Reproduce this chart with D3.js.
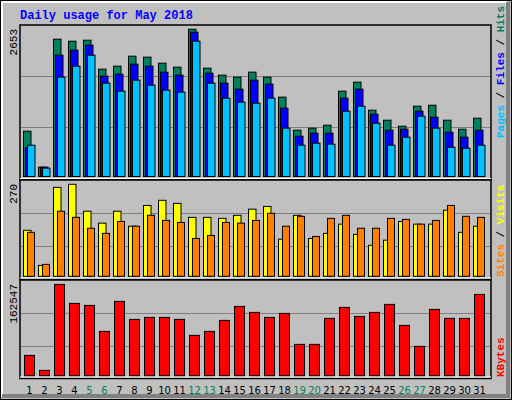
<!DOCTYPE html>
<html><head><meta charset="utf-8">
<script src="https://cdn.jsdelivr.net/npm/d3@7"></script>
<style>body{margin:0;background:#fff}svg{display:block}</style>
</head><body>
<script>
// daily values
var days = d3.range(1, 32);
var weekend = [5, 6, 12, 13, 19, 20, 26, 27];
var hits = [816,168,2473,2437,2455,1933,1987,2167,2149,2041,1969,2653,1951,1825,1789,1879,1789,1429,834,870,924,1537,1699,1194,1014,906,1266,1284,1014,852,1050];
var files = [516,168,2185,2275,2365,1807,1843,2023,1987,1879,1825,2599,1861,1681,1573,1735,1663,1231,726,780,780,1411,1573,1122,834,852,1176,1068,798,708,834];
var pages = [564,150,1789,1987,2185,1681,1537,1735,1645,1555,1519,2437,1681,1411,1339,1321,1411,870,564,600,582,1176,1266,960,564,708,1086,870,528,510,564];
var sites = [135,32,261,270,191,156,191,147,208,223,214,173,173,170,179,197,205,109,179,111,126,153,123,91,106,161,153,153,194,129,147];
var visits = [129,35,191,173,141,126,161,147,179,164,158,111,120,158,156,164,185,147,176,117,170,179,141,141,170,167,153,164,208,176,173];
var kbytes = [36187,9492,162547,128733,125174,78901,132292,100257,103816,103816,100257,71782,78901,98478,123394,112716,103816,110936,55764,55764,102036,121614,105596,112716,126953,89579,52205,118053,102036,102036,144750];
var grid1 = [886, 1805], grid2 = [88, 185], grid3 = [52300, 111000];

var W = 512, H = 400, left = 20, right = 491;
var svg = d3.select('body').append('svg').attr('width', W).attr('height', H);
var mono = "'Liberation Mono','DejaVu Sans Mono',monospace";

// frame with bevel
svg.append('rect').attr('x', 0).attr('y', 0).attr('width', W).attr('height', H).attr('fill', '#c0c0c0');
svg.append('rect').attr('x', 0.5).attr('y', 0.5).attr('width', W - 1).attr('height', H - 1).attr('fill', 'none').attr('stroke', '#000');
svg.append('path').attr('d', 'M2,397V2H507').attr('fill', 'none').attr('stroke', '#fff').attr('stroke-width', 2);
svg.append('path').attr('d', 'M508,2V396H2').attr('fill', 'none').attr('stroke', '#808080').attr('stroke-width', 4);

svg.append('text').attr('x', left).attr('y', 19).text('Daily usage for May 2018')
    .attr('font-family', mono).attr('font-weight', 'bold').attr('font-size', 12).attr('fill', '#0000ff');

var x = d3.scaleBand().domain(days).range([left + 3.5, left + 3.5 + 15 * 31]).paddingInner(0);

function panel(top, bottom, base, maxY, maxV, grid) {
    var y = d3.scaleLinear().domain([0, maxV]).range([base, maxY]);
    svg.append('rect').attr('x', left).attr('y', top).attr('width', right - left).attr('height', bottom - top)
        .attr('fill', '#c0c0c0').attr('stroke', '#000').attr('stroke-width', 1.5);
    svg.append('line').attr('x1', left).attr('x2', right).attr('y1', bottom - 1.5).attr('y2', bottom - 1.5)
        .attr('stroke', '#fff').attr('stroke-width', 1);
    svg.selectAll(null).data(grid).enter().append('line')
        .attr('x1', left + 1).attr('x2', right - 1)
        .attr('y1', function (d) { return Math.round(y(d)) + 0.5; })
        .attr('y2', function (d) { return Math.round(y(d)) + 0.5; })
        .attr('stroke', '#808080').attr('stroke-width', 1);
    return y;
}

function bars(y, vals, off, w, color) {
    svg.append('g').selectAll('rect').data(vals).enter().append('rect')
        .attr('x', function (d, i) { return x(days[i]) + off; })
        .attr('y', function (d) { return y(d); })
        .attr('width', w)
        .attr('height', function (d) { return y(0) - y(d); })
        .attr('fill', color).attr('stroke', '#000').attr('stroke-width', 1);
}

var y1 = panel(25, 180, 176.5, 29.2, 2653, grid1);
bars(y1, hits, 0, 7.5, '#00805c');
bars(y1, files, 2, 7.5, '#0000ff');
bars(y1, pages, 4, 7.5, '#00c0ff');

var y2 = panel(180, 279.5, 276.3, 184.3, 270, grid2);
bars(y2, sites, 0, 7.5, '#ffff00');
bars(y2, visits, 4, 7, '#ff8000');

var y3 = panel(280, 378.5, 375.7, 284.4, 162547, grid3);
bars(y3, kbytes, 1, 10, '#ff0000');

// left max labels
function vlabel(xp, yp, txt, anchor) {
    svg.append('text').attr('transform', 'translate(' + xp + ',' + yp + ') rotate(-90)')
        .attr('text-anchor', anchor).attr('font-family', mono).attr('font-size', 11).text(txt);
}
vlabel(17, 29, '2653', 'end');
vlabel(17, 184, '270', 'end');
vlabel(17, 284, '162547', 'end');

// right legends
function legend(yp, parts) {
    var t = svg.append('text').attr('transform', 'translate(504,' + yp + ') rotate(-90)')
        .attr('font-family', mono).attr('font-size', 11).attr('font-weight', 'bold');
    parts.forEach(function (p) { t.append('tspan').attr('fill', p[1]).text(p[0]); });
}
legend(138, [['Pages', '#00c0ff'], [' / ', '#000'], ['Files', '#0000ff'], [' / ', '#000'], ['Hits', '#00805c']]);
legend(277, [['Sites', '#ff8000'], [' / ', '#000'], ['Visits', '#ffff00']]);
legend(377, [['KBytes', '#ff0000']]);

// day labels
svg.append('g').selectAll('text').data(days).enter().append('text')
    .attr('x', function (d) { return x(d) + 6; })
    .attr('y', 394)
    .attr('text-anchor', 'middle')
    .attr('font-family', "'DejaVu Sans',sans-serif").attr('font-size', 10)
    .attr('fill', function (d) { return weekend.indexOf(d) >= 0 ? '#00805c' : '#000'; })
    .text(function (d) { return d; });
</script>
</body></html>
